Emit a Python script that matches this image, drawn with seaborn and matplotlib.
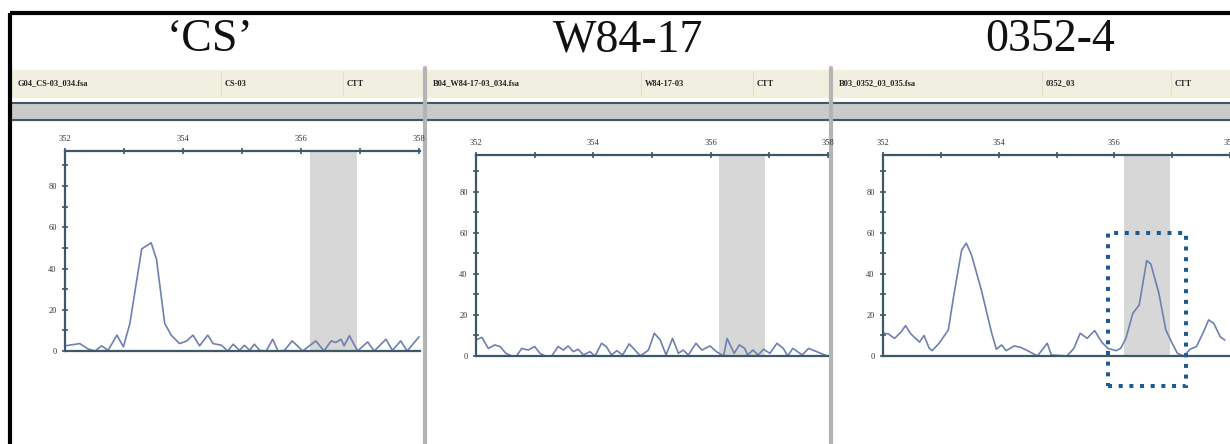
"""
plot.py

Three capillary electropherogram panels ('CS', W84-17, 0352-4) showing peak
traces over fragment size, with the allele bin shaded.
"""

import seaborn as sns
import numpy as np
import pandas as pd
from matplotlib import pyplot as plt
from matplotlib.patches import Rectangle

sns.set_style('white')
plt.rcParams['font.family'] = ['Liberation Serif', 'DejaVu Serif']

#------------------------------------------------------------------------------
# Data
#------------------------------------------------------------------------------
titles = ['\u2018CS\u2019', 'W84-17', '0352-4']
file_names = ['G04_CS-03_034.fsa', 'B04_W84-17-03_034.fsa', 'B03_0352_03_035.fsa']
sample_names = ['CS-03', 'W84-17-03', '0352_03']
marker = 'CTT'

cs_size = [352.00, 352.25, 352.39, 352.51, 352.62, 352.73, 352.88, 352.99, 353.10,
           353.30, 353.46, 353.55, 353.69, 353.80, 353.94, 354.06, 354.17, 354.28,
           354.42, 354.51, 354.65, 354.76, 354.85, 354.96, 355.04, 355.13, 355.21,
           355.30, 355.41, 355.52, 355.61, 355.72, 355.85, 356.03, 356.25, 356.39,
           356.51, 356.59, 356.68, 356.73, 356.82, 356.96, 357.13, 357.24, 357.44,
           357.55, 357.69, 357.80, 358.00]
cs_rfu = [2.5, 3.6, 1.0, 0.0, 2.5, 0.3, 7.7, 2.0, 13.4,
          49.5, 52.5, 44.6, 13.4, 7.7, 3.6, 4.8, 7.7, 2.5,
          7.7, 3.6, 2.8, 0.0, 3.3, 0.3, 2.8, 0.3, 3.3,
          0.3, 0.0, 5.7, 0.0, 0.3, 4.9, 0.0, 4.9, 0.0,
          4.9, 4.1, 5.7, 2.5, 7.4, 0.0, 4.4, 0.0, 5.7,
          0.3, 4.9, 0.0, 6.9]

w84_size = [352.00, 352.10, 352.21, 352.32, 352.41, 352.51, 352.61, 352.69, 352.78,
            352.89, 353.00, 353.09, 353.18, 353.29, 353.40, 353.49, 353.57, 353.66,
            353.74, 353.83, 353.94, 354.03, 354.14, 354.22, 354.31, 354.40, 354.50,
            354.61, 354.71, 354.80, 354.94, 355.04, 355.14, 355.24, 355.35, 355.45,
            355.53, 355.62, 355.75, 355.85, 355.99, 356.10, 356.22, 356.28, 356.40,
            356.49, 356.58, 356.63, 356.72, 356.81, 356.90, 357.01, 357.13, 357.24,
            357.31, 357.40, 357.48, 357.56, 357.67, 357.99]
w84_rfu = [7.8, 9.1, 3.7, 5.4, 4.6, 1.3, 0.0, 0.0, 3.7,
           2.9, 4.6, 1.3, 0.0, 0.0, 4.6, 2.9, 4.9, 2.1,
           3.3, 0.5, 2.1, 0.0, 6.2, 4.6, 0.5, 2.6, 0.5,
           5.9, 2.9, 0.0, 2.9, 11.1, 7.8, 0.5, 8.6, 1.3,
           2.9, 0.5, 6.2, 2.9, 4.9, 2.1, 0.0, 8.6, 1.3,
           5.4, 3.7, 0.5, 2.9, 0.5, 3.3, 1.3, 6.2, 3.7,
           0.0, 3.7, 2.1, 0.5, 3.7, 0.0]

d0352_size = [352.00, 352.09, 352.20, 352.31, 352.39, 352.48, 352.63, 352.71, 352.80,
              352.85, 352.97, 353.13, 353.22, 353.36, 353.44, 353.53, 353.70, 353.88,
              353.96, 354.05, 354.13, 354.27, 354.38, 354.50, 354.67, 354.84, 354.91,
              355.18, 355.30, 355.41, 355.53, 355.66, 355.78, 355.89, 356.03, 356.11,
              356.20, 356.32, 356.43, 356.56, 356.63, 356.77, 356.89, 357.00, 357.09,
              357.20, 357.31, 357.42, 357.54, 357.63, 357.72, 357.83, 357.91]
d0352_rfu = [11.1, 10.8, 8.6, 11.6, 14.8, 10.8, 6.8, 10.0, 3.7,
             2.6, 6.2, 12.7, 28.9, 51.7, 55.0, 49.3, 32.2, 11.1,
             3.3, 5.4, 2.6, 4.9, 4.2, 2.6, 0.0, 6.2, 0.5,
             0.0, 3.7, 11.1, 8.6, 12.4, 6.8, 3.7, 2.6, 3.7,
             8.6, 20.8, 24.9, 46.5, 44.9, 30.6, 12.7, 6.2, 1.3,
             0.0, 3.3, 4.6, 11.6, 17.6, 15.9, 9.4, 7.8]

sizes = [cs_size, w84_size, d0352_size]
rfus = [cs_rfu, w84_rfu, d0352_rfu]
bins = [(356.15, 356.95), (356.14, 356.93), (356.17, 356.97)]
highlight = (355.89, 357.24, -14.8, 60.2)   # dotted box on 0352-4

#------------------------------------------------------------------------------
# Layout helpers (pixel coordinates of a 1230x444 canvas)
#------------------------------------------------------------------------------
W, H = 1230, 444
fig = plt.figure(figsize=(W / 100, H / 100), dpi=100)
fig.patch.set_facecolor('white')

def px_axes(x0, y0, x1, y1, **kw):
    return fig.add_axes([x0 / W, 1 - y1 / H, (x1 - x0) / W, (y1 - y0) / H], **kw)

bg = px_axes(0, 0, W, H, zorder=0)
bg.set_xlim(0, W)
bg.set_ylim(H, 0)
bg.axis('off')

panels = [(12, 424), (427, 830), (833, 1230)]
title_x = [210, 628, 1050]
axes_px = [(65, 151, 420, 351), (476, 155, 828, 356), (883, 155, 1230, 356)]
ymax = [97, 98, 98]
px_per_bp = 59.0
header_cols = [(6, 213, 335), (6, 218, 330), (6, 213, 342)]

line_col = '#3f5868'
trace_col = '#6d80b0'

for i, (p0, p1) in enumerate(panels):
    # header band
    bg.add_patch(Rectangle((p0, 70), p1 - p0, 27, color='#f1f0e0', zorder=1))
    for c in header_cols[i][1:]:
        bg.plot([p0 + c - 4, p0 + c - 4], [71, 96], color='#e0dfcc', lw=0.8, zorder=2)
    for c, label in zip(header_cols[i], [file_names[i], sample_names[i], marker]):
        bg.text(p0 + c, 83.5, label, fontsize=6, weight='bold',
                va='center', color='#222222', zorder=3)
    # grey bar
    bg.add_patch(Rectangle((p0, 103), p1 - p0, 17, color='#cacaca', zorder=1))
    bg.plot([p0, p1], [103, 103], color=line_col, lw=1.5, zorder=2)
    bg.plot([p0, p1], [120, 120], color=line_col, lw=1.5, zorder=2)
    # titles
    bg.text(title_x[i], 40, titles[i], fontsize=33, ha='center', va='center',
            color='#111111')

# panel dividers and outer frame
for x in [425, 831]:
    bg.plot([x, x], [68, H], color='#b4b4b4', lw=3, zorder=4)
bg.plot([10, W], [13, 13], color='black', lw=3, zorder=5, solid_capstyle='butt')
bg.plot([10, 10], [13, H], color='black', lw=3, zorder=5, solid_capstyle='butt')

#------------------------------------------------------------------------------
# Electropherograms
#------------------------------------------------------------------------------
for i in range(3):
    x0, y0, x1, y1 = axes_px[i]
    ax = px_axes(x0, y0, x1, y1, zorder=2)
    ax.patch.set_alpha(0)

    df = pd.DataFrame({'size': sizes[i], 'rfu': rfus[i]})
    ax.axvspan(*bins[i], color='#d7d7d7', lw=0, zorder=0)
    sns.lineplot(data=df, x='size', y='rfu', color=trace_col, lw=1.2, ax=ax,
                 zorder=2, clip_on=False)

    ax.set_xlim(352, 352 + (x1 - x0) / px_per_bp)
    ax.set_ylim(0, ymax[i])
    ax.set_xlabel('')
    ax.set_ylabel('')

    ax.xaxis.tick_top()
    ax.set_xticks([352, 354, 356, 358])
    ax.set_xticks([353, 355, 357], minor=True)
    ax.set_xticklabels(['352', '354', '356', '358'])
    ax.set_yticks([0, 20, 40, 60, 80])
    ax.set_yticks([10, 30, 50, 70, 90], minor=True)
    ax.tick_params(which='both', direction='inout', length=4, width=1.2,
                   color=line_col, labelsize=6, labelcolor='#333333', pad=4,
                   top=True, left=True, bottom=False, right=False)

    for s in ['top', 'left', 'bottom']:
        ax.spines[s].set_color(line_col)
        ax.spines[s].set_linewidth(1.6)
        ax.spines[s].set_visible(True)
    ax.spines['right'].set_visible(False)
    ax.grid(False)

    if i == 2:
        bx0, bx1, by0, by1 = highlight
        ax.add_patch(Rectangle((bx0, by0), bx1 - bx0, by1 - by0, fill=False,
                               edgecolor='#1d5a92', lw=2.9, linestyle=(0, (1, 1.65)),
                               clip_on=False, zorder=5))

#------------------------------------------------------------------------------
# Save figure
#------------------------------------------------------------------------------
plt.savefig('out.png', dpi=100)
